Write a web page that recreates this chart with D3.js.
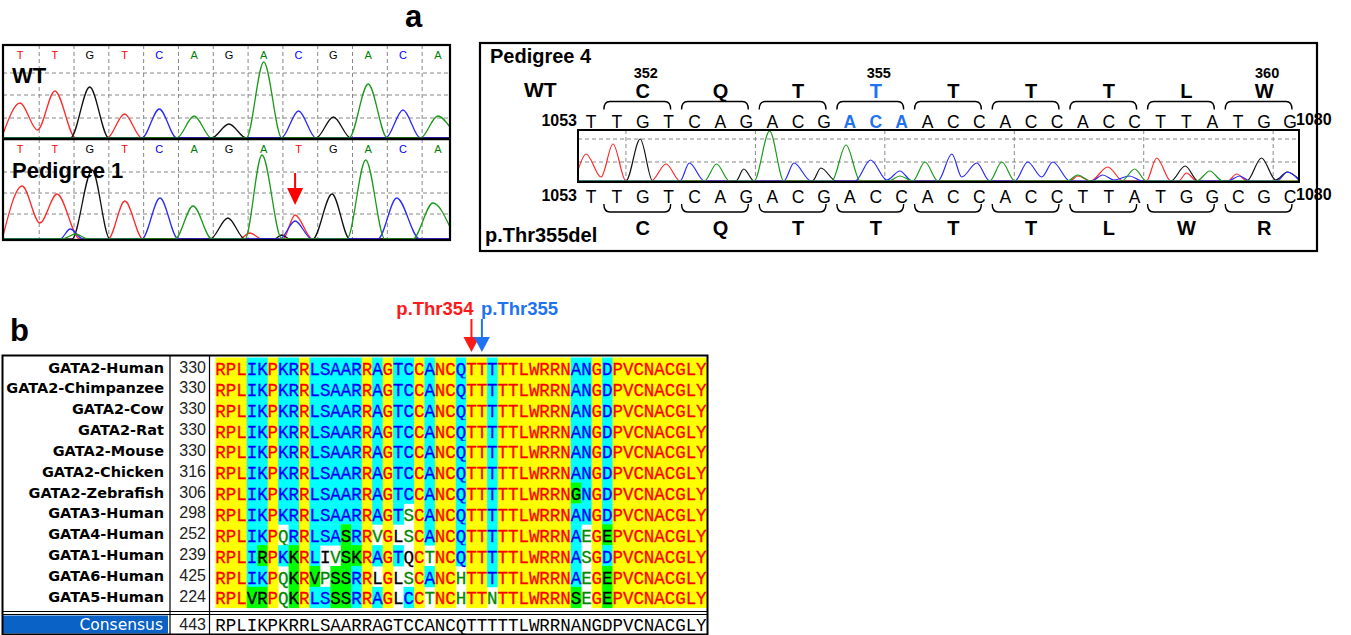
<!DOCTYPE html>
<html>
<head>
<meta charset="utf-8">
<script src="https://cdn.jsdelivr.net/npm/d3@7"></script>
<style>
  body { margin: 0; background: #fff; }
  svg { display: block; }
  text { font-family: 'Liberation Sans', Arial, sans-serif; }
</style>
</head>
<body>
<svg id="fig" width="1351" height="635"></svg>
<script>
// ---- panel a, left: WT vs pedigree 1 traces (x in base index, h in px above baseline)
const leftBasesWT = ['T', 'T', 'G', 'T', 'C', 'A', 'G', 'A', 'C', 'G', 'A', 'C', 'A']
const leftBasesPed = ['T', 'T', 'G', 'T', 'C', 'A', 'G', 'A', 'T', 'G', 'A', 'C', 'A']

const wtRed = [[-0.49, 4], [0, 35], [0.5, 8], [1, 47], [1.6, 0], [2.5, 0], [3, 24], [3.5, 0], [12.35, 0]]
const wtBlack = [[-0.49, 0], [1.45, 0], [2, 51], [2.55, 0], [5.5, 0], [6, 14], [6.5, 0], [8.5, 0], [9, 21], [9.5, 0], [12.35, 0]]
const wtBlue = [[-0.49, 0], [3.5, 0], [4, 29], [4.5, 0], [7.5, 0], [8, 27], [8.5, 0], [10.5, 0], [11, 28], [11.5, 0], [12.35, 0]]
const wtGreen = [[-0.49, 0], [4.5, 0], [5, 22], [5.5, 0], [6.5, 0], [7, 76], [7.52, 0], [9.45, 0], [10, 54], [10.55, 0], [11.5, 0], [12, 22], [12.35, 11]]

const pedRed = [[-0.49, 3], [0.06, 53], [0.57, 16], [1.06, 45], [1.72, 0], [2.53, 0], [3.01, 38], [3.53, 0], [6.3, 0], [6.6, 6], [6.95, 0], [7.55, 0], [7.9, 24], [8.4, 0], [12.35, 0]]
const pedBlack = [[-0.49, 0], [1.49, 0], [2.07, 69], [2.58, 0], [5.46, 0], [5.97, 21], [6.46, 0], [7.3, 0], [7.52, 4], [7.75, 0], [8.41, 0], [8.96, 45], [9.47, 0], [12.35, 0]]
const pedBlue = [[-0.49, 0], [1.15, 0], [1.44, 10], [1.81, 0], [3.5, 0], [4.02, 41], [4.54, 0], [7.46, 0], [7.9, 18], [8.38, 0], [10.28, 0], [10.82, 41], [11.48, 0], [12.35, 0]]
const pedGreen = [[-0.49, 0], [1.2, 0], [1.6, 5], [1.95, 0], [4.45, 0], [4.97, 33], [5.51, 0], [6.46, 0], [6.95, 84], [7.52, 0], [9.39, 0], [9.93, 79], [10.48, 0], [11.28, 0], [11.86, 36], [12.35, 12]]

// ---- panel a, right: pedigree 4 (nt 1053-1080)
const refSeq = 'TTGTCAGACGACAACCACCACCTTATGG'.split('')
const mutSeq = 'TTGTCAGACGACCACCACCTTATGGCGC'.split('')
const refCodons = ['C', 'Q', 'T', 'T', 'T', 'T', 'T', 'L', 'W']
const mutCodons = ['C', 'Q', 'T', 'T', 'T', 'T', 'L', 'W', 'R']
const codonNumbers = [[0, '352'], [3, '355'], [8, '360']]
const deletedNt = [10, 11, 12]
const ntRange = ['1053', '1080']

const p4Red = [[-0.5, 11], [-0.19, 27], [0.39, 4], [0.85, 37], [1.35, 0], [2.32, 0], [2.9, 17], [3.44, 0], [18.5, 0], [18.8, 5], [19.3, 0], [19.96, 14], [20.55, 0], [21.45, 0], [21.85, 23], [22.4, 0], [22.7, 0], [23.0, 8], [23.4, 0], [24.6, 0], [24.94, 7], [25.35, 0], [27.34, 0]]
const p4Black = [[-0.5, 0], [1.35, 0], [1.9, 42], [2.38, 0], [5.6, 0], [5.9, 12], [6.3, 0], [8.55, 0], [8.88, 13], [9.47, 0], [22.4, 0], [22.95, 15], [23.45, 0], [25.33, 0], [25.9, 23], [26.45, 1], [26.9, 9], [27.34, 2]]
const p4Blue = [[-0.5, 0], [3.44, 0], [3.8, 18], [4.38, 0], [7.45, 0], [7.84, 18], [8.5, 0], [10.2, 0], [10.8, 21], [11.43, 1], [11.93, 10], [12.4, 0], [13.4, 0], [13.94, 27], [14.32, 4], [14.9, 18], [15.4, 0], [16.37, 0], [16.87, 19], [17.41, 4], [17.84, 19], [18.5, 0], [19.34, 0], [19.77, 6], [20.2, 1], [20.8, 5], [21.3, 0], [24.6, 0], [25.06, 5], [25.45, 0], [26.5, 0], [26.9, 9], [27.34, 1]]
const p4Green = [[-0.5, 0], [4.38, 0], [4.85, 17], [5.35, 0], [6.3, 0], [6.9, 50], [7.45, 0], [9.3, 0], [9.85, 36], [10.4, 0], [11.5, 0], [11.93, 5], [12.43, 0], [12.9, 19], [13.4, 0], [15.4, 0], [15.87, 19], [16.37, 0], [18.4, 0], [18.8, 6], [19.3, 0], [20.5, 0], [21.0, 12], [21.45, 0], [23.4, 0], [23.9, 10], [24.4, 0], [27.34, 0]]

// ---- panel b: alignment
const alnNames = ['GATA2-Human', 'GATA2-Chimpanzee', 'GATA2-Cow', 'GATA2-Rat', 'GATA2-Mouse', 'GATA2-Chicken',
  'GATA2-Zebrafish', 'GATA3-Human', 'GATA4-Human', 'GATA1-Human', 'GATA6-Human', 'GATA5-Human']
const alnStarts = [330, 330, 330, 330, 330, 316, 306, 298, 252, 239, 425, 224]
const alnSeqs = [
  'RPLIKPKRRLSAARRAGTCCANCQTTTTTLWRRNANGDPVCNACGLY',
  'RPLIKPKRRLSAARRAGTCCANCQTTTTTLWRRNANGDPVCNACGLY',
  'RPLIKPKRRLSAARRAGTCCANCQTTTTTLWRRNANGDPVCNACGLY',
  'RPLIKPKRRLSAARRAGTCCANCQTTTTTLWRRNANGDPVCNACGLY',
  'RPLIKPKRRLSAARRAGTCCANCQTTTTTLWRRNANGDPVCNACGLY',
  'RPLIKPKRRLSAARRAGTCCANCQTTTTTLWRRNANGDPVCNACGLY',
  'RPLIKPKRRLSAARRAGTCCANCQTTTTTLWRRNGNGDPVCNACGLY',
  'RPLIKPKRRLSAARRAGTSCANCQTTTTTLWRRNANGDPVCNACGLY',
  'RPLIKPQRRLSASRRVGLSCANCQTTTTTLWRRNAEGEPVCNACGLY',
  'RPLIRPKKRLIVSKRAGTQCTNCQTTTTTLWRRNASGDPVCNACGLY',
  'RPLIKPQKRVPSSRRLGLSCANCHTTTTTLWRRNAEGEPVCNACGLY',
  'RPLVRPQKRLSSSRRAGLCCTNCHTTNTTLWRRNSEGEPVCNACGLY'
]
// y identical, c conserved, g similar, w weakly similar, n non-similar
const alnClasses = [
  'yyyccyccyc' + 'ccccycyccy' + 'cyycyycyyy' + 'yyyyccycyy' + 'yyyyyyy',
  'yyyccyccyc' + 'ccccycyccy' + 'cyycyycyyy' + 'yyyyccycyy' + 'yyyyyyy',
  'yyyccyccyc' + 'ccccycyccy' + 'cyycyycyyy' + 'yyyyccycyy' + 'yyyyyyy',
  'yyyccyccyc' + 'ccccycyccy' + 'cyycyycyyy' + 'yyyyccycyy' + 'yyyyyyy',
  'yyyccyccyc' + 'ccccycyccy' + 'cyycyycyyy' + 'yyyyccycyy' + 'yyyyyyy',
  'yyyccyccyc' + 'ccccycyccy' + 'cyycyycyyy' + 'yyyyccycyy' + 'yyyyyyy',
  'yyyccyccyc' + 'ccccycyccy' + 'cyycyycyyy' + 'yyyygcycyy' + 'yyyyyyy',
  'yyyccyccyc' + 'ccccycycwy' + 'cyycyycyyy' + 'yyyyccycyy' + 'yyyyyyy',
  'yyyccywcyc' + 'ccgcywynwy' + 'cyycyycyyy' + 'yyyycwygyy' + 'yyyyyyy',
  'yyycgycgyc' + 'nwggycycny' + 'wyycyycyyy' + 'yyyycwycyy' + 'yyyyyyy',
  'yyyccywgyg' + 'wggcynynwy' + 'cyywyycyyy' + 'yyyycwygyy' + 'yyyyyyy',
  'yyyggywgyc' + 'cggcycyncy' + 'wyywyywyyy' + 'yyyygwygyy' + 'yyyyyyy'
]
const consName = 'Consensus'
const consStart = 443
const consSeq = 'RPLIKPKRRLSAARRAGTCCANCQTTTTTLWRRNANGDPVCNACGLY'
const variantArrows = [[24, 'p.Thr354', '#ff1a1a'], [25, 'p.Thr355', '#1f73f0']]

// -------------------------------------------------------------
const svg = d3.select('#fig')
const baseColor = { T: '#ff0000', G: '#000000', C: '#0000ff', A: '#008000' }
const traceColor = { red: '#ff2a2a', black: '#111111', blue: '#2a2aff', green: '#1a9a1a' }
const cls = {
  y: { bg: '#ffff00', fg: '#ff0000' },
  c: { bg: '#00ffff', fg: '#0000ff' },
  g: { bg: '#00ff00', fg: '#000000' },
  w: { bg: null, fg: '#008a00' },
  n: { bg: null, fg: '#000000' }
}
const MONO = "'Liberation Mono', 'Courier New', monospace"

svg.append('text').text('a').attr('x', 405).attr('y', 27)
  .attr('font-size', 31).attr('font-weight', 'bold')
svg.append('text').text('b').attr('x', 10).attr('y', 341)
  .attr('font-size', 31).attr('font-weight', 'bold')

// ---------- left chromatograms
const leftX = d3.scaleLinear().domain([-0.49, 12.35]).range([3, 450])

function chromaPanel (top, bottom, label, labelY, bases, traces, grid) {
  const g = svg.append('g')
  const id = 'clip' + Math.round(top)
  svg.append('clipPath').attr('id', id).append('rect')
    .attr('x', 3).attr('y', top).attr('width', 447).attr('height', bottom - top)
  const y = d3.scaleLinear().domain([0, 100]).range([bottom - 1, bottom - 101])

  g.selectAll('line.h').data(grid).enter().append('line')
    .attr('x1', 3).attr('x2', 450).attr('y1', d => y(d)).attr('y2', d => y(d))
    .attr('stroke', '#888').attr('stroke-dasharray', '4,3').attr('stroke-width', 1)
  g.selectAll('line.v').data(d3.range(12)).enter().append('line')
    .attr('x1', d => leftX(d + 0.55)).attr('x2', d => leftX(d + 0.55))
    .attr('y1', top).attr('y2', bottom)
    .attr('stroke', '#888').attr('stroke-dasharray', '4,3').attr('stroke-width', 1)

  g.selectAll('text.base').data(bases).enter().append('text')
    .attr('x', (d, i) => leftX(i)).attr('y', top + 14)
    .attr('text-anchor', 'middle').attr('font-size', 11)
    .attr('fill', d => baseColor[d]).text(d => d)

  const line = d3.line().x(d => leftX(d[0])).y(d => y(d[1])).curve(d3.curveMonotoneX)
  traces.forEach(t => {
    g.append('path').datum(t[0]).attr('d', line).attr('fill', 'none')
      .attr('stroke', traceColor[t[1]]).attr('stroke-width', 1.3)
      .attr('clip-path', 'url(#' + id + ')')
  })

  g.append('text').text(label).attr('x', 12).attr('y', labelY)
    .attr('font-size', 22).attr('font-weight', 'bold')
}

chromaPanel(45, 139, 'WT', 83, leftBasesWT,
  [[wtRed, 'red'], [wtBlack, 'black'], [wtBlue, 'blue'], [wtGreen, 'green']], [65, 43, 20])
chromaPanel(139, 240, 'Pedigree 1', 178, leftBasesPed,
  [[pedRed, 'red'], [pedBlack, 'black'], [pedBlue, 'blue'], [pedGreen, 'green']], [67, 46, 25])

svg.append('rect').attr('x', 3).attr('y', 45).attr('width', 447).attr('height', 195)
  .attr('fill', 'none').attr('stroke', '#000').attr('stroke-width', 2.2)
svg.append('line').attr('x1', 3).attr('x2', 450).attr('y1', 139).attr('y2', 139)
  .attr('stroke', '#000').attr('stroke-width', 2.5)

// het arrow on the pedigree 1 T call
const hetX = leftX(7.9)
svg.append('line').attr('x1', hetX).attr('x2', hetX).attr('y1', 173).attr('y2', 190)
  .attr('stroke', '#ff0000').attr('stroke-width', 2)
svg.append('path').attr('d', `M${hetX - 8},188 L${hetX + 8},188 L${hetX},205 Z`).attr('fill', '#ff0000')

// ---------- right panel, pedigree 4
const rx = d3.scaleLinear().domain([0, 27]).range([591, 1290])
svg.append('rect').attr('x', 480).attr('y', 43).attr('width', 837).attr('height', 208)
  .attr('fill', 'none').attr('stroke', '#000').attr('stroke-width', 2.2)

svg.append('text').text('Pedigree 4').attr('x', 490).attr('y', 63)
  .attr('font-size', 20).attr('font-weight', 'bold')
svg.append('text').text('WT').attr('x', 524).attr('y', 97)
  .attr('font-size', 21).attr('font-weight', 'bold')
svg.append('text').text('p.Thr355del').attr('x', 485).attr('y', 242)
  .attr('font-size', 20).attr('font-weight', 'bold')

const boxTop = 130
const boxBot = 182
const ry = d3.scaleLinear().domain([0, 50]).range([boxBot - 1, boxBot - 51])
svg.append('clipPath').attr('id', 'clipP4').append('rect')
  .attr('x', 578).attr('y', boxTop).attr('width', 721).attr('height', boxBot - boxTop)
const p4 = svg.append('g')
p4.selectAll('line.h').data([139, 162]).enter().append('line')
  .attr('x1', 578).attr('x2', 1299).attr('y1', d => d).attr('y2', d => d)
  .attr('stroke', '#888').attr('stroke-dasharray', '4,3')
p4.selectAll('line.v').data(d3.range(6)).enter().append('line')
  .attr('x1', d => rx(1.35 + d * 5)).attr('x2', d => rx(1.35 + d * 5))
  .attr('y1', boxTop).attr('y2', boxBot)
  .attr('stroke', '#888').attr('stroke-dasharray', '4,3')
const p4line = d3.line().x(d => rx(d[0])).y(d => ry(d[1])).curve(d3.curveMonotoneX)
;[[p4Red, 'red'], [p4Black, 'black'], [p4Blue, 'blue'], [p4Green, 'green']].forEach(t => {
  p4.append('path').datum(t[0]).attr('d', p4line).attr('fill', 'none')
    .attr('stroke', traceColor[t[1]]).attr('stroke-width', 1.2)
    .attr('clip-path', 'url(#clipP4)')
})
svg.append('rect').attr('x', 578).attr('y', boxTop).attr('width', 721).attr('height', boxBot - boxTop)
  .attr('fill', 'none').attr('stroke', '#000').attr('stroke-width', 2)

// nucleotide rows
function ntRow (seq, baseY, blue) {
  svg.append('g').selectAll('text').data(seq).enter().append('text')
    .attr('x', (d, i) => rx(i)).attr('y', baseY).attr('text-anchor', 'middle')
    .attr('font-size', 17.5)
    .attr('font-weight', (d, i) => blue.includes(i) ? 'bold' : 'normal')
    .attr('fill', (d, i) => blue.includes(i) ? '#1f73f0' : '#000')
    .text(d => d)
  svg.append('text').text(ntRange[0]).attr('x', 577).attr('y', baseY - 2)
    .attr('text-anchor', 'end').attr('font-size', 16).attr('font-weight', 'bold')
  svg.append('text').text(ntRange[1]).attr('x', 1296).attr('y', baseY - 3)
    .attr('font-size', 16).attr('font-weight', 'bold')
}
ntRow(refSeq, 128, deletedNt)
ntRow(mutSeq, 203, [])

function bracketPath (x1, x2, y0, dir) {
  const e = y0 + dir * 8
  return `M${x1},${e} Q${x1},${y0} ${x1 + 6},${y0} L${x2 - 6},${y0} Q${x2},${y0} ${x2},${e}`
}
function codonRow (codons, lineY, dir, letterY, blueIdx) {
  const g = svg.append('g')
  g.selectAll('path').data(codons).enter().append('path')
    .attr('d', (d, k) => bracketPath(rx(1 + 3 * k) - 13, rx(3 + 3 * k) + 2, lineY, dir))
    .attr('fill', 'none').attr('stroke', '#000').attr('stroke-width', 1.4)
  g.selectAll('text').data(codons).enter().append('text')
    .attr('x', (d, k) => rx(2 + 3 * k)).attr('y', letterY).attr('text-anchor', 'middle')
    .attr('font-size', 20).attr('font-weight', 'bold')
    .attr('fill', (d, k) => k === blueIdx ? '#1f73f0' : '#000')
    .text(d => d)
}
codonRow(refCodons, 101.5, 1, 98, 3)
codonRow(mutCodons, 212, -1, 235, -1)
svg.append('g').selectAll('text').data(codonNumbers).enter().append('text')
  .attr('x', d => rx(2 + 3 * d[0]) + 3).attr('y', 78).attr('text-anchor', 'middle')
  .attr('font-size', 14.5).attr('font-weight', 'bold').text(d => d[1])

// ---------- panel b alignment
const colX = d3.scaleBand().domain(d3.range(consSeq.length)).range([215.4, 706.6])
const rowY = d3.scaleBand().domain(d3.range(alnNames.length)).range([357.5, 607.7])
const bw = colX.bandwidth()
const bh = rowY.bandwidth()

const rows = svg.append('g').selectAll('g').data(alnSeqs).enter().append('g')
rows.each(function (seq, r) {
  const g = d3.select(this)
  const cells = seq.split('').map((ch, i) => ({ ch, i, c: cls[alnClasses[r][i]] }))
  g.selectAll('rect').data(cells.filter(d => d.c.bg)).enter().append('rect')
    .attr('x', d => colX(d.i)).attr('y', rowY(r))
    .attr('width', bw + 0.4).attr('height', bh + 0.4)
    .attr('fill', d => d.c.bg)
  g.selectAll('text').data(cells).enter().append('text')
    .attr('x', d => colX(d.i) + bw / 2).attr('y', rowY(r) + 17.5)
    .attr('text-anchor', 'middle')
    .style('font-family', MONO)
    .attr('font-size', 17.5).attr('fill', d => d.c.fg)
    .attr('stroke', d => d.c.fg).attr('stroke-width', 0.3)
    .text(d => d.ch)
})
svg.append('g').selectAll('text').data(alnNames).enter().append('text')
  .attr('x', 164).attr('y', (d, r) => rowY(r) + 15).attr('text-anchor', 'end')
  .style('font-family', "'DejaVu Sans', sans-serif")
  .attr('font-size', 14.5).attr('font-weight', 'bold').text(d => d)
svg.append('g').selectAll('text').data(alnStarts).enter().append('text')
  .attr('x', 206).attr('y', (d, r) => rowY(r) + 15).attr('text-anchor', 'end')
  .attr('font-size', 16).attr('fill', '#222').text(d => d)

// consensus row
svg.append('rect').attr('x', 3).attr('y', 615.5).attr('width', 165).attr('height', 18)
  .attr('fill', '#0a62c6')
svg.append('text').text(consName).attr('x', 163).attr('y', 630).attr('text-anchor', 'end')
  .style('font-family', "'DejaVu Sans', sans-serif").attr('font-size', 15.5).attr('fill', '#fff')
svg.append('text').text(consStart).attr('x', 206).attr('y', 630).attr('text-anchor', 'end')
  .attr('font-size', 16).attr('fill', '#222')
svg.append('g').selectAll('text').data(consSeq.split('')).enter().append('text')
  .attr('x', (d, i) => colX(i) + bw / 2).attr('y', 631).attr('text-anchor', 'middle')
  .style('font-family', MONO)
  .attr('font-size', 17.5).attr('fill', '#000').text(d => d)

// table frame
const frame = svg.append('g').attr('stroke', '#000').attr('fill', 'none')
frame.append('rect').attr('x', 2.5).attr('y', 355.5).attr('width', 705).attr('height', 279)
  .attr('stroke-width', 2)
frame.append('line').attr('x1', 170).attr('x2', 170).attr('y1', 355).attr('y2', 635).attr('stroke-width', 1.2)
frame.append('line').attr('x1', 209.5).attr('x2', 209.5).attr('y1', 355).attr('y2', 635).attr('stroke-width', 1.2)
frame.append('line').attr('x1', 2).attr('x2', 708).attr('y1', 611.5).attr('y2', 611.5).attr('stroke-width', 1.2)
frame.append('line').attr('x1', 2).attr('x2', 708).attr('y1', 614.5).attr('y2', 614.5).attr('stroke-width', 1.2)

// variant arrows above the alignment
const arrows = svg.append('g').selectAll('g').data(variantArrows).enter().append('g')
arrows.append('line')
  .attr('x1', d => colX(d[0]) + bw / 2).attr('x2', d => colX(d[0]) + bw / 2)
  .attr('y1', 319).attr('y2', 339)
  .attr('stroke', d => d[2]).attr('stroke-width', 2)
arrows.append('path')
  .attr('d', d => { const x = colX(d[0]) + bw / 2; return `M${x - 8},337 L${x + 8},337 L${x},352 Z` })
  .attr('fill', d => d[2])
arrows.append('text')
  .attr('x', (d, i) => i === 0 ? colX(d[0]) + bw / 2 + 2 : colX(d[0]) + bw / 2 - 1)
  .attr('y', 315)
  .attr('text-anchor', (d, i) => i === 0 ? 'end' : 'start')
  .attr('font-size', 18.5).attr('font-weight', 'bold').attr('fill', d => d[2])
  .text(d => d[1])
</script>
</body>
</html>
